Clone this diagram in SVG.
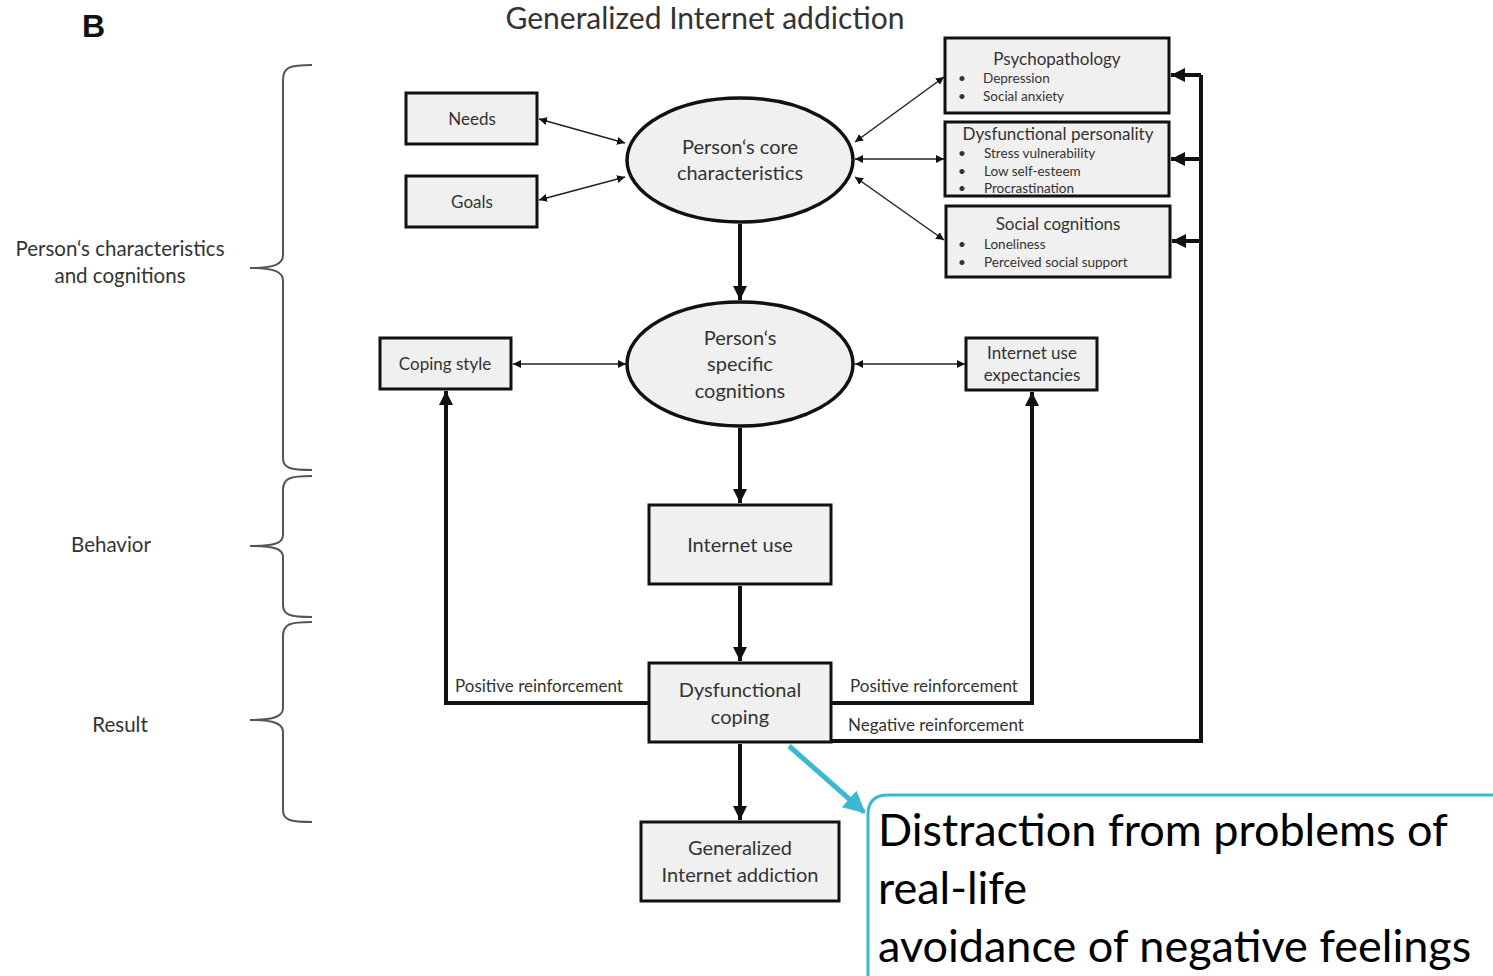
<svg xmlns="http://www.w3.org/2000/svg" width="1493" height="976" viewBox="0 0 1493 976">
<style>
text{font-family:Lato,"Open Sans","Liberation Sans",sans-serif;fill:#333}
.box{fill:#f0f0f0;stroke:#111;stroke-width:3}
.ell{fill:#f0f0f0;stroke:#111;stroke-width:3.5}
.thin{stroke:#222;stroke-width:1.5;fill:none;marker-start:url(#hs);marker-end:url(#he)}
.thick{stroke:#111;stroke-width:4;fill:none;marker-end:url(#HE)}
.brace{stroke:#555;stroke-width:2;fill:none}
.c{text-anchor:middle}
.lbl{font-size:17px}
.sm{font-size:13.5px}
.side{font-size:20.5px}
.big{font-size:45px;fill:#000}
</style>
<defs>
<marker id="he" viewBox="0 0 10 10" refX="10" refY="5" markerWidth="8" markerHeight="8" markerUnits="userSpaceOnUse" orient="auto"><path d="M0,0L10,5L0,10z" fill="#111"/></marker>
<marker id="hs" viewBox="0 0 10 10" refX="0" refY="5" markerWidth="8" markerHeight="8" markerUnits="userSpaceOnUse" orient="auto"><path d="M10,0L0,5L10,10z" fill="#111"/></marker>
<marker id="HE" viewBox="0 0 10 10" refX="10" refY="5" markerWidth="14" markerHeight="14" markerUnits="userSpaceOnUse" orient="auto"><path d="M0,0L10,5L0,10z" fill="#111"/></marker>
<marker id="CE" viewBox="0 0 10 10" refX="9" refY="5" markerWidth="22" markerHeight="22" markerUnits="userSpaceOnUse" orient="auto"><path d="M0,0L10,5L0,10z" fill="#3db8d2"/></marker>
</defs>

<text x="82" y="37" style="font-family:'Liberation Sans',Arial,sans-serif;font-weight:bold;font-size:32px;fill:#111">B</text>
<text x="705" y="29" class="c" style="font-size:30px">Generalized Internet addiction</text>

<g id="braces">
<path class="brace" d="M312,65 C290,65 283,67 283,80 L283,255 C283,264 275,268 250,268 C275,268 283,272 283,281 L283,458 C283,468 290,470 312,470"/>
<path class="brace" d="M312,476 C290,476 283,478 283,490 L283,535 C283,543 275,546 250,546 C275,546 283,549 283,557 L283,605 C283,615 290,617 312,617"/>
<path class="brace" d="M312,622 C290,622 283,624 283,636 L283,708 C283,716 275,720 250,720 C275,720 283,724 283,732 L283,810 C283,820 290,822 312,822"/>
<text x="120" y="256" class="c side">Person‘s characteristics</text>
<text x="120" y="283" class="c side">and cognitions</text>
<text x="111" y="552" class="c side">Behavior</text>
<text x="120" y="732" class="c side">Result</text>
</g>

<g id="connectors">
<line class="thin" x1="539" y1="119" x2="625" y2="143"/>
<line class="thin" x1="539" y1="200" x2="625" y2="177"/>
<line class="thin" x1="855" y1="142" x2="944" y2="77"/>
<line class="thin" x1="855" y1="159" x2="944" y2="159"/>
<line class="thin" x1="855" y1="177" x2="944" y2="240"/>
<line class="thin" x1="513" y1="364" x2="626" y2="364"/>
<line class="thin" x1="855" y1="364" x2="965" y2="364"/>
<line class="thick" x1="740" y1="224" x2="740" y2="300"/>
<line class="thick" x1="740" y1="428" x2="740" y2="503"/>
<line class="thick" x1="740" y1="586" x2="740" y2="661"/>
<line class="thick" x1="740" y1="744" x2="740" y2="820"/>
<polyline class="thick" points="649,703 446,703 446,391"/>
<polyline class="thick" points="831,703 1032,703 1032,392"/>
<polyline style="stroke:#111;stroke-width:4;fill:none" points="831,741 1201,741 1201,75"/>
<line class="thick" x1="1201" y1="75" x2="1171" y2="75"/>
<line class="thick" x1="1201" y1="159" x2="1171" y2="159"/>
<line class="thick" x1="1201" y1="241" x2="1172" y2="241"/>
<text x="455" y="692" class="lbl">Positive reinforcement</text>
<text x="850" y="692" class="lbl">Positive reinforcement</text>
<text x="848" y="731" class="lbl">Negative reinforcement</text>
<line x1="789" y1="746" x2="864" y2="812" style="stroke:#3db8d2;stroke-width:5;marker-end:url(#CE)"/>
</g>

<g id="needs"><rect class="box" x="406" y="93" width="131" height="51"/><text x="472" y="125" class="c lbl">Needs</text></g>
<g id="goals"><rect class="box" x="406" y="176" width="131" height="51"/><text x="472" y="208" class="c lbl">Goals</text></g>
<g id="core"><ellipse class="ell" cx="740" cy="160" rx="113" ry="62"/><text x="740" y="154" class="c" style="font-size:20px">Person‘s core</text><text x="740" y="180" class="c" style="font-size:20px">characteristics</text></g>

<g id="psycho"><rect class="box" x="945" y="38" width="224" height="75"/>
<text x="1057" y="65" class="c lbl">Psychopathology</text>
<text x="958" y="83" class="sm">•</text><text x="983" y="83" class="sm">Depression</text>
<text x="958" y="101" class="sm">•</text><text x="983" y="101" class="sm">Social anxiety</text></g>
<g id="personality"><rect class="box" x="945" y="122" width="224" height="74"/>
<text x="1058" y="140" class="c lbl">Dysfunctional personality</text>
<text x="958" y="158" class="sm">•</text><text x="984" y="158" class="sm">Stress vulnerability</text>
<text x="958" y="176" class="sm">•</text><text x="984" y="176" class="sm">Low self-esteem</text>
<text x="958" y="193" class="sm">•</text><text x="984" y="193" class="sm">Procrastination</text></g>
<g id="social"><rect class="box" x="946" y="206" width="224" height="71"/>
<text x="1058" y="230" class="c lbl">Social cognitions</text>
<text x="958" y="249" class="sm">•</text><text x="984" y="249" class="sm">Loneliness</text>
<text x="958" y="267" class="sm">•</text><text x="984" y="267" class="sm">Perceived social support</text></g>

<g id="coping"><rect class="box" x="380" y="338" width="131" height="51"/><text x="445" y="370" class="c lbl">Coping style</text></g>
<g id="specific"><ellipse class="ell" cx="740" cy="364" rx="113" ry="62"/><text x="740" y="345" class="c" style="font-size:20px">Person‘s</text><text x="740" y="371" class="c" style="font-size:20px">specific</text><text x="740" y="398" class="c" style="font-size:20px">cognitions</text></g>
<g id="expect"><rect class="box" x="966" y="338" width="131" height="52"/><text x="1032" y="359" class="c lbl">Internet use</text><text x="1032" y="381" class="c lbl">expectancies</text></g>

<g id="use"><rect class="box" x="649" y="505" width="182" height="79"/><text x="740" y="552" class="c" style="font-size:20px">Internet use</text></g>
<g id="dyscoping"><rect class="box" x="649" y="663" width="182" height="79"/><text x="740" y="697" class="c" style="font-size:20px">Dysfunctional</text><text x="740" y="724" class="c" style="font-size:20px">coping</text></g>
<g id="gia"><rect class="box" x="641" y="822" width="198" height="79"/><text x="740" y="855" class="c" style="font-size:20px">Generalized</text><text x="740" y="882" class="c" style="font-size:20px">Internet addiction</text></g>

<g id="callout">
<path d="M868,990 L868,815 Q868,795 888,795 L1500,795" style="fill:#fff;stroke:#3db8d2;stroke-width:3"/>
<text x="878" y="846" class="big">Distraction from problems of</text>
<text x="878" y="904" class="big">real-life</text>
<text x="878" y="962" class="big">avoidance of negative feelings</text>
</g>
</svg>
